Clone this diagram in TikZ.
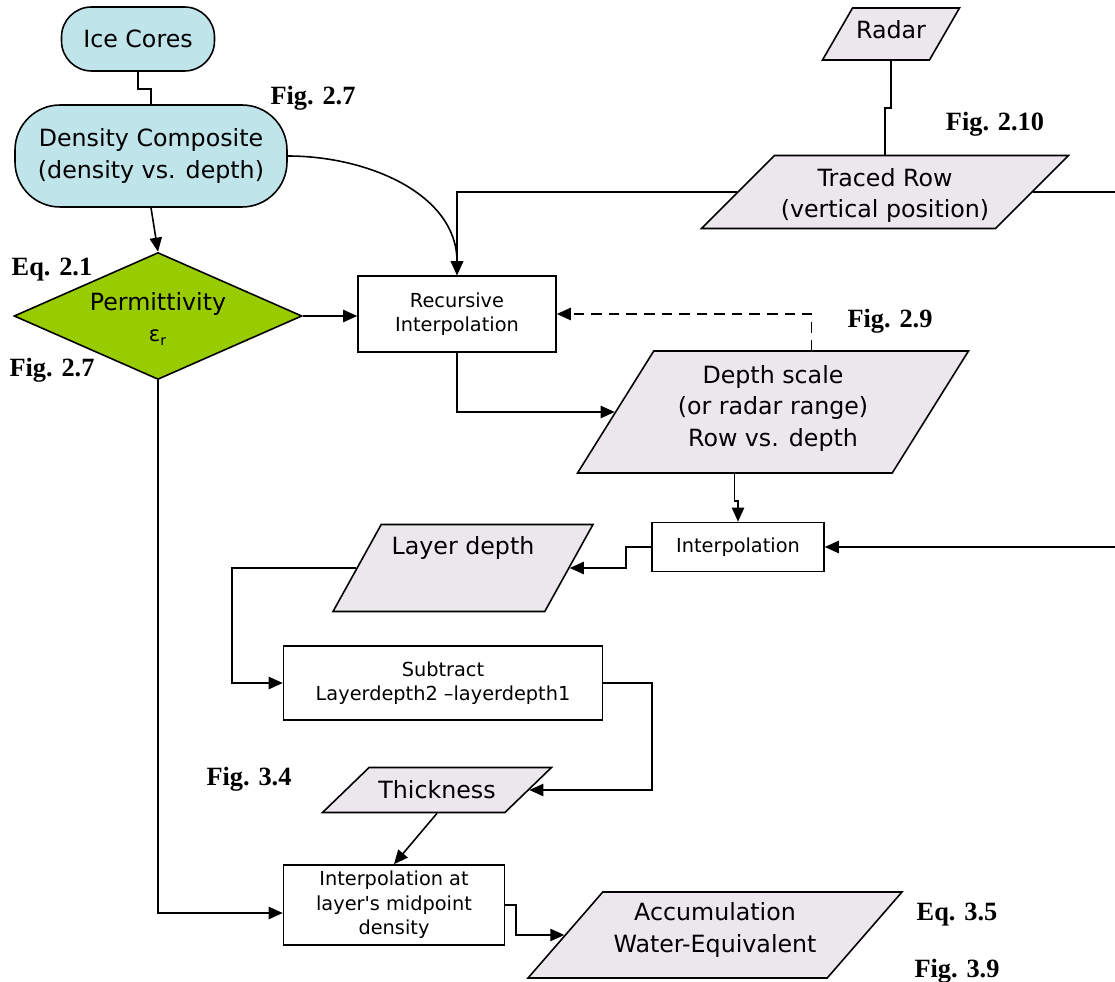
\documentclass[tikz,border=0pt]{standalone}
\usepackage{fontspec}
\usepackage{tikz}
\usepackage{amsmath, amssymb}
\usetikzlibrary{positioning, shapes.geometric, arrows.meta}

\newfontfamily\boxfont{DejaVu Sans}
\newfontfamily\figfont{Liberation Serif}
\newcommand{\boxbig}{\boxfont\fontsize{13.5}{18}\selectfont}
\newcommand{\boxsmall}{\boxfont\fontsize{11}{14}\selectfont}
\newcommand{\figtext}{\figfont\bfseries\fontsize{15}{18}\selectfont}

\definecolor{corefill}{HTML}{BFE4EA}
\definecolor{datafill}{HTML}{ECE7ED}
\definecolor{permfill}{HTML}{99CC00}

\tikzset{
	flow/.style={-{Triangle[width=7pt,length=8pt]}},
	corebox/.style={draw, fill=corefill, align=center, font=\boxbig, inner sep=0pt},
	stepbox/.style={draw, fill=white, align=center, font=\boxsmall, inner sep=0pt},
	iobox/.style={trapezium, trapezium stretches body, draw, fill=datafill, align=center, font=\boxbig, inner sep=0pt},
	testbox/.style={diamond, aspect=2.27, draw, fill=permfill, align=center, font=\boxbig, inner sep=0pt},
	figref/.style={font=\figtext, inner sep=0pt},
}

\begin{document}
\begin{tikzpicture}[x=0.02cm, y=-0.02cm, line width=0.9pt]
	\useasboundingbox (0,0) rectangle (1115,982);

	\node[corebox, rounded corners=0.6cm, minimum width=3.06cm, minimum height=1.28cm] (ice) at (138,39) {Ice Cores};
	\node[corebox, rounded corners=0.9cm, minimum width=5.44cm, minimum height=2.04cm] (dens) at (151,156) {Density Composite\\(density vs. depth)};
	\node[testbox, minimum width=5.76cm, minimum height=2.54cm, text height=1.14cm, text depth=0.1cm] (perm) at (158,316) {Permittivity\\{\fontsize{12}{12}\selectfont ε\textsubscript{r}}};
	\node[stepbox, minimum width=3.96cm, minimum height=1.52cm] (rec) at (457,314) {Recursive\\Interpolation};
	\node[iobox, trapezium left angle=60, trapezium right angle=120, minimum width=2.74cm, minimum height=1.04cm, text height=0.61cm, text depth=0.43cm] (radar) at (891,34) {Radar};
	\node[iobox, trapezium left angle=45, trapezium right angle=135, minimum width=7.34cm, minimum height=1.46cm, text height=1.25cm, text depth=0.21cm] (trace) at (885,192) {Traced Row\\(vertical position)};
	\node[iobox, trapezium left angle=58, trapezium right angle=122, minimum width=7.82cm, minimum height=2.44cm, text height=1.91cm, text depth=0.53cm] (depth) at (773,412) {Depth scale\\(or radar range)\\Row vs. depth};
	\node[stepbox, minimum width=3.44cm, minimum height=0.98cm] (interp) at (738,547) {Interpolation};
	\node[iobox, trapezium left angle=61, trapezium right angle=119, minimum width=5.2cm, minimum height=1.74cm, text height=0.59cm, text depth=1.15cm] (layer) at (463,568) {Layer depth};
	\node[stepbox, minimum width=6.38cm, minimum height=1.48cm] (sub) at (443,683) {Subtract\\Layerdepth2 –layerdepth1};
	\node[iobox, trapezium left angle=44, trapezium right angle=136, minimum width=4.58cm, minimum height=0.9cm, text height=0.61cm, text depth=0.29cm] (thick) at (437,790) {Thickness};
	\node[stepbox, minimum width=4.42cm, minimum height=1.6cm] (mid) at (394,905) {Interpolation at\\layer's midpoint\\density};
	\node[iobox, trapezium left angle=49, trapezium right angle=131, minimum width=7.48cm, minimum height=1.72cm, text height=1.21cm, text depth=0.51cm] (acc) at (715,935) {Accumulation\\Water-Equivalent};

	\coordinate (offedge) at (1125,0);

	\draw (ice.south) -- ++(0,17) -| (dens.north);
	\draw[flow] (dens.south) -- (perm.north);
	\draw[flow] (dens.east) to[out=0, in=90] (rec.north);
	\draw[flow] (perm.east) -- (perm.east -| rec.west);
	\draw (radar.south) -- ++(0,47) -| (trace.north);
	\draw[flow] (trace.left side) -| (rec.north);
	\draw[flow] (trace.right side) -- (trace.right side -| offedge) |- (interp.east);
	\draw[flow, dash pattern=on 6pt off 4pt] (depth.top side) |- (rec.east);
	\draw[flow] (rec.south) |- (depth.left side);
	\draw[flow] (depth.bottom side) -- ++(0,27) -| (interp.north);
	\draw[flow] (interp.west) -- ++(-25,0) |- (layer.right side);
	\draw[flow] (layer.left side) -- ++(-124,0) |- (sub.west);
	\draw[flow] (sub.east) -- ++(49,0) |- (thick.right side);
	\draw[flow] (thick.south) -- (mid.north);
	\draw[flow] (perm.south) |- ([yshift=-0.16cm]mid.west);
	\draw[flow] (mid.east) -- ++(11,0) |- (acc.left side);

	\node[figref] (figdens) at (313,98) {Fig. 2.7};
	\node[figref] (eqperm) at (52,270) {Eq. 2.1};
	\node[figref, below=1.5cm of eqperm] (figperm) {Fig. 2.7};
	\node[figref] (figtrace) at (995,124) {Fig. 2.10};
	\node[figref] (figdepth) at (890,321) {Fig. 2.9};
	\node[figref] (figthick) at (249,779) {Fig. 3.4};
	\node[figref] (eqacc) at (957,915) {Eq. 3.5};
	\node[figref, below=0.62cm of eqacc] (figacc) {Fig. 3.9};
\end{tikzpicture}
\end{document}
